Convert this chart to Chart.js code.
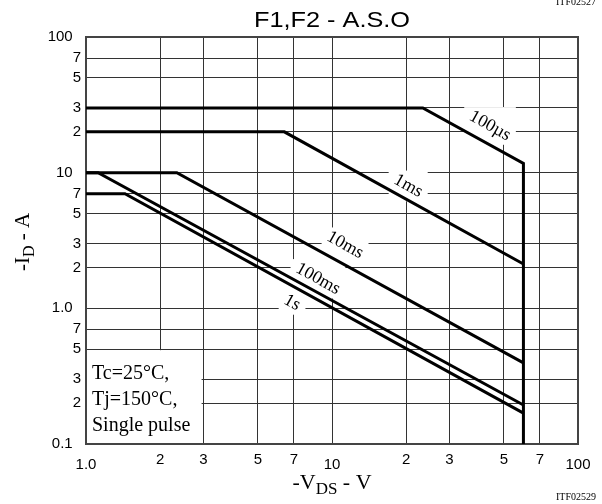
<!DOCTYPE html>
<html><head><meta charset="utf-8">
<script src="https://cdn.jsdelivr.net/npm/chart.js@4.4.0/dist/chart.umd.min.js"></script>
<style>html,body{margin:0;padding:0;background:#fff}#wrap{width:602px;height:504px;position:relative}</style>
</head><body><div id="wrap"><canvas id="c"></canvas></div>
<script>
// ---- tick values and labels ----
const xTicks = [1, 2, 3, 5, 7, 10, 20, 30, 50, 70, 100];
const xTickLabels = ['1.0', '2', '3', '5', '7', '10', '2', '3', '5', '7', '100'];
const yTicks = [0.1, 0.2, 0.3, 0.5, 0.7, 1, 2, 3, 5, 7, 10, 20, 30, 50, 70, 100];
const yTickLabels = ['0.1', '2', '3', '5', '7', '1.0', '2', '3', '5', '7', '10', '2', '3', '5', '7', '100'];
const majorTicks = [0.1, 1, 10, 100];

// ---- series (-VDS in V, -ID in A) ----
const seriesNames = ['100µs', '1ms', '10ms', '100ms', '1s'];
const vds100us = [1, 23.4, 60, 60];
const id100us  = [30, 30, 11.7, 0.1];
const vds1ms   = [1, 6.4, 60];
const id1ms    = [20, 20, 2.12];
const vds10ms  = [1, 2.34, 60];
const id10ms   = [10, 10, 0.396];
const vds100ms = [1, 1.12, 60];
const id100ms  = [10, 10, 0.194];
const vds1s    = [1, 1.44, 60];
const id1s     = [7, 7, 0.169];

// curve label anchors (data coordinates)
const labelVds = [43.9, 20.4, 11.3, 8.77, 6.88];
const labelId  = [22.1, 7.98, 2.93, 1.65, 1.10];

const conditionLines = ['Tc=25°C,', 'Tj=150°C,', 'Single pulse'];

const SERIF = '"Liberation Serif","Times New Roman",Times,serif';
const SANS = '"Liberation Sans",Arial,Helvetica,sans-serif';

const pts = (xs, ys) => xs.map((v, i) => ({x: v, y: ys[i]}));
const seriesData = [pts(vds100us, id100us), pts(vds1ms, id1ms), pts(vds10ms, id10ms), pts(vds100ms, id100ms), pts(vds1s, id1s)];

const lineOpts = {showLine: true, pointRadius: 0, borderColor: '#000', borderWidth: 3, tension: 0, fill: false, borderJoinStyle: 'miter'};

function labelBoxes(chart) {
  const {ctx, scales: {x, y}} = chart;
  const ang = Math.atan2(y.getPixelForValue(1) - y.getPixelForValue(10), x.getPixelForValue(10) - x.getPixelForValue(1));
  ctx.font = '18px ' + SERIF;
  return seriesNames.map((t, i) => {
    const cx = x.getPixelForValue(labelVds[i]);
    const cy = y.getPixelForValue(labelId[i]);
    const w = ctx.measureText(t).width, h = 14;
    const bw = w * Math.cos(ang) + h * Math.sin(ang);
    const bh = w * Math.sin(ang) + h * Math.cos(ang);
    return {t, cx, cy, ang, bw, bh};
  });
}

const annot = {
  id: 'annot',
  beforeDatasetsDraw(chart) {
    const {ctx, chartArea: a, scales: {x, y}} = chart;
    ctx.save();
    ctx.fillStyle = '#fff';
    // condition box
    const top = y.getPixelForValue(0.5) + 1;
    ctx.fillRect(a.left, top, x.getPixelForValue(2.95) - a.left, a.bottom - top);
    // curve label backgrounds
    labelBoxes(chart).forEach(b => {
      ctx.fillRect(b.cx - b.bw / 2 - 3, b.cy - b.bh / 2 - 2, b.bw + 6, b.bh + 4);
    });
    // frame
    ctx.strokeStyle = '#444';
    ctx.lineWidth = 2;
    ctx.strokeRect(a.left, a.top, a.right - a.left, a.bottom - a.top);
    ctx.restore();
  },
  afterDatasetsDraw(chart) {
    const {ctx, chartArea: a} = chart;
    ctx.save();
    ctx.fillStyle = '#000';
    labelBoxes(chart).forEach(b => {
      ctx.save();
      ctx.translate(b.cx, b.cy);
      ctx.rotate(b.ang);
      ctx.font = '18px ' + SERIF;
      ctx.textAlign = 'center';
      ctx.textBaseline = 'middle';
      ctx.fillText(b.t, 0, 0);
      ctx.restore();
    });
    ctx.font = '20px ' + SERIF;
    ctx.textAlign = 'left';
    ctx.textBaseline = 'alphabetic';
    conditionLines.forEach((t, i) => ctx.fillText(t, a.left + 6, 379 + i * 26));
    ctx.restore();
  },
  afterDraw(chart) {
    const {ctx, chartArea: a} = chart;
    const cx = (a.left + a.right) / 2;
    ctx.save();
    ctx.fillStyle = '#000';
    // title
    ctx.save();
    ctx.translate(cx, 27);
    ctx.scale(1.15, 1);
    ctx.font = '22px ' + SANS;
    ctx.textAlign = 'center';
    ctx.textBaseline = 'alphabetic';
    ctx.fillText('F1,F2 - A.S.O', 0, 0);
    ctx.restore();
    // x axis title
    const xParts = [['-V', 22, 0], ['DS', 17, 5], [' - V', 22, 0]];
    drawParts(ctx, xParts, cx, 489);
    // y axis title
    ctx.save();
    ctx.translate(22, 242);
    ctx.rotate(-Math.PI / 2);
    drawParts(ctx, [['-I', 21, 0], ['D', 16, 5], [' - A', 21, 0]], 0, 7);
    ctx.restore();
    // codes
    ctx.font = '10px ' + SERIF;
    ctx.textAlign = 'right';
    ctx.textBaseline = 'middle';
    ctx.fillText('ITF02529', 596, 497);
    ctx.fillText('ITF02527', 596, 2);
    ctx.restore();
  }
};

function drawParts(ctx, parts, cx, base) {
  ctx.textAlign = 'left';
  ctx.textBaseline = 'alphabetic';
  let total = 0;
  parts.forEach(p => { ctx.font = p[1] + 'px ' + SERIF; total += ctx.measureText(p[0]).width; });
  let xx = cx - total / 2;
  parts.forEach(p => {
    ctx.font = p[1] + 'px ' + SERIF;
    ctx.fillText(p[0], xx, base + p[2]);
    xx += ctx.measureText(p[0]).width;
  });
}

new Chart(document.getElementById('c'), {
  type: 'scatter',
  data: {
    datasets: seriesNames.map((n, i) => Object.assign({label: n, data: seriesData[i]}, lineOpts))
  },
  options: {
    responsive: true,
    maintainAspectRatio: false,
    animation: false,
    events: [],
    layout: {padding: {top: 37, right: 24, bottom: 0, left: 0}},
    plugins: {legend: {display: false}, tooltip: {enabled: false}, title: {display: false}},
    scales: {
      x: {
        type: 'logarithmic', min: 1, max: 100,
        afterBuildTicks: s => { s.ticks = xTicks.map(v => ({value: v})); },
        afterFit: s => { s.height = 60; },
        grid: {color: '#333', lineWidth: 1, drawTicks: false},
        border: {display: false},
        ticks: {
          autoSkip: false, maxRotation: 0, minRotation: 0, padding: 7, color: '#000',
          font: c => {
            const v = c.tick ? c.tick.value : null;
            return {family: SANS, size: 15, lineHeight: majorTicks.includes(v) ? 0.6 : 1.2};
          },
          callback: (v, i) => majorTicks.includes(xTicks[i]) ? ['', xTickLabels[i]] : xTickLabels[i]
        }
      },
      y: {
        type: 'logarithmic', min: 0.1, max: 100,
        afterBuildTicks: s => { s.ticks = yTicks.map(v => ({value: v})); },
        afterFit: s => { s.width = 86; },
        grid: {color: '#333', lineWidth: 1, drawTicks: false},
        border: {display: false},
        ticks: {
          autoSkip: false, padding: 5, color: '#000',
          font: {family: SANS, size: 15},
          callback: (v, i) => majorTicks.includes(yTicks[i]) ? yTickLabels[i] + '  ' : yTickLabels[i]
        }
      }
    }
  },
  plugins: [annot]
});
</script>
</body></html>
